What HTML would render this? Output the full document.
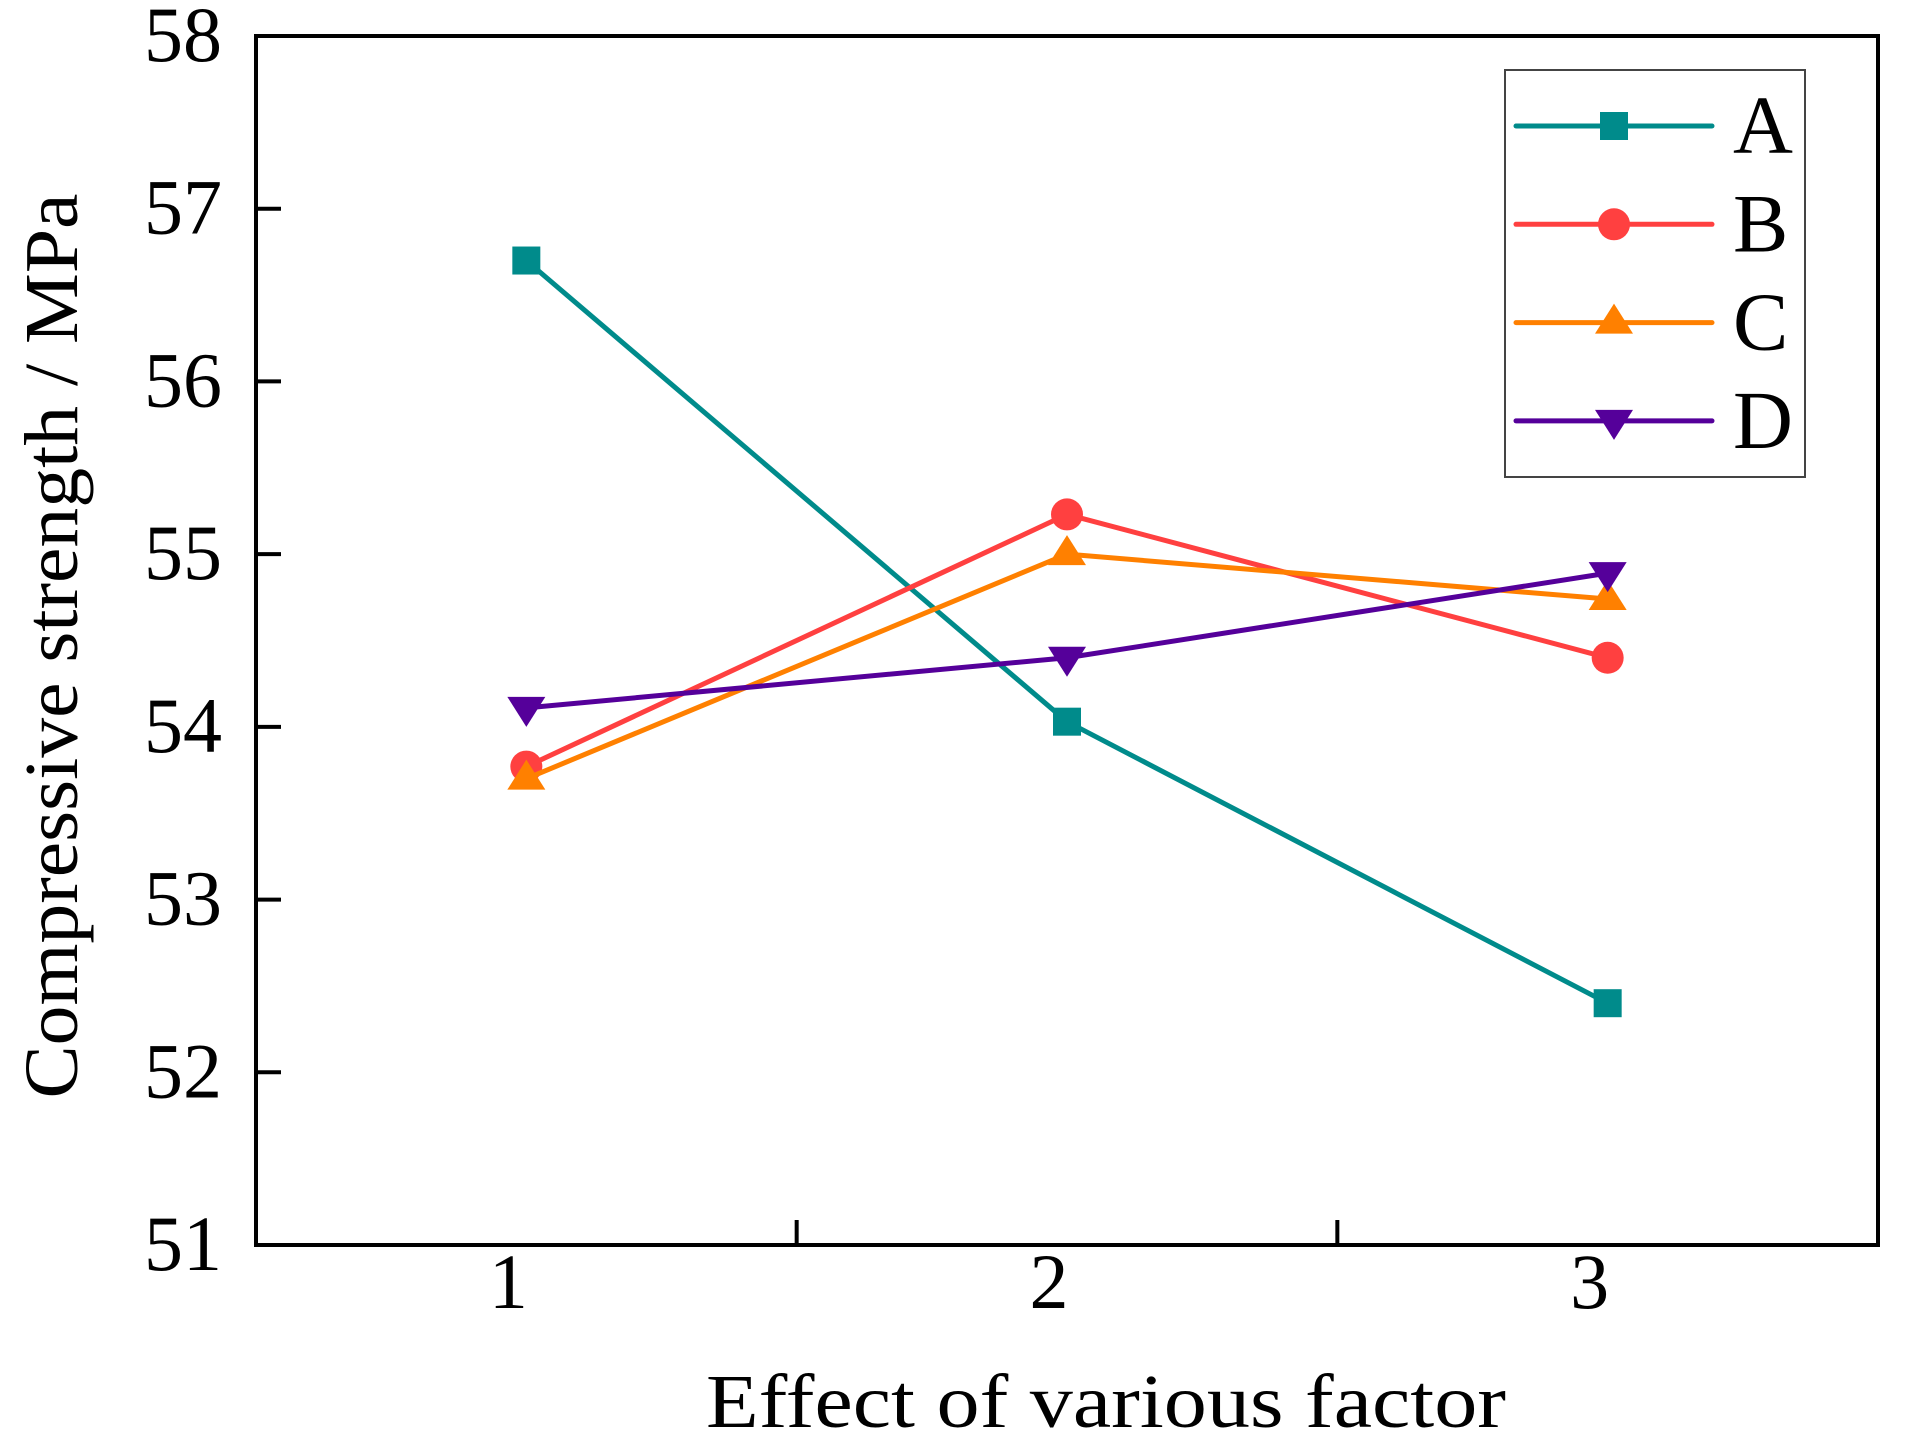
<!DOCTYPE html>
<html><head><meta charset="utf-8"><style>
html,body{margin:0;padding:0;background:#fff;}
svg, svg text{font-family:"Liberation Serif","Times New Roman",Times,serif;}
</style></head><body>
<svg id="chart" width="1917" height="1446" viewBox="0 0 1917 1446" xmlns="http://www.w3.org/2000/svg" font-family="Liberation Serif, Times New Roman, serif">
<rect x="0" y="0" width="1917" height="1446" fill="#fff"/>
<g id="marks"></g>
<rect x="256" y="36" width="1622" height="1209" fill="none" stroke="#000" stroke-width="4"/>
<g id="axes"></g>
<text x="1106" y="1427" font-family="Liberation Serif, serif" font-size="76" text-anchor="middle" textLength="800" lengthAdjust="spacingAndGlyphs">Effect of various factor</text>
<text transform="translate(77,646) rotate(-90)" font-family="Liberation Serif, serif" font-size="76" text-anchor="middle" textLength="905" lengthAdjust="spacingAndGlyphs">Compressive strength / MPa</text>
<g id="legend">
<rect x="1505" y="70" width="300" height="407" fill="#fff" stroke="#444" stroke-width="2"/>
</g>
</svg>
<script>
const categories = [1, 2, 3];
const seriesNames = ["A", "B", "C", "D"];
const seriesA = [56.70, 54.03, 52.40];
const seriesB = [53.77, 55.23, 54.40];
const seriesC = [53.70, 55.00, 54.74];
const seriesD = [54.11, 54.40, 54.89];
const yTicks = [51, 52, 53, 54, 55, 56, 57, 58];
const xMinorTicks = [1.5, 2.5];

const NS = "http://www.w3.org/2000/svg";
const L = 256, R = 1878, T = 36, B = 1245;
const xMin = 0.5, xMax = 3.5, yMin = 51, yMax = 58;
const FONT = "Liberation Serif, serif";
function xs(v){ return L + (v - xMin) / (xMax - xMin) * (R - L); }
function ys(v){ return B - (v - yMin) / (yMax - yMin) * (B - T); }
function mk(tag, attrs, parent){ const e = document.createElementNS(NS, tag); for (const k in attrs) e.setAttribute(k, attrs[k]); parent.appendChild(e); return e; }

const axes = document.getElementById('axes');
yTicks.forEach(t => {
  const y = ys(t);
  const tl = mk('line', {x1: L, x2: L + 25, y1: y, y2: y, stroke: '#000', 'stroke-width': 4}, axes);
  
  
  const tx = mk('text', {x: 222, y: y + 25, 'font-size': 78, 'font-family': FONT, 'text-anchor': 'end'}, axes);
  tx.textContent = t;
  
  
});
categories.forEach(c => {
  const tx = mk('text', {x: xs(c) - 18, y: 1308, 'font-size': 78, 'font-family': FONT, 'text-anchor': 'middle'}, axes);
  tx.textContent = c;
  
  
});
xMinorTicks.forEach(c => {
  const tl = mk('line', {x1: xs(c), x2: xs(c), y1: B, y2: B - 25, stroke: '#000', 'stroke-width': 4}, axes);
  
  
});

const colors = ["#008B8B", "#FF4040", "#FF8000", "#55009A"];
const shapes = ["square", "circle", "up", "down"];
const allSeries = [seriesA, seriesB, seriesC, seriesD];

function marker(shape, x, y, color, parent){
  let e;
  if (shape === 'square') e = mk('rect', {x: x - 14, y: y - 14, width: 28, height: 28, fill: color}, parent);
  else if (shape === 'circle') e = mk('circle', {cx: x, cy: y, r: 16, fill: color}, parent);
  else if (shape === 'up') e = mk('polygon', {points: `${x},${y-19} ${x-19},${y+11} ${x+19},${y+11}`, fill: color}, parent);
  else e = mk('polygon', {points: `${x},${y+19} ${x-19},${y-11} ${x+19},${y-11}`, fill: color}, parent);
  return e;
}

const marks = document.getElementById('marks');
allSeries.forEach((s, i) => {
  const g = mk('g', {}, marks);
  
  
  const pts = s.map((v, j) => xs(categories[j]) + ',' + ys(v)).join(' ');
  const pl = mk('polyline', {points: pts, fill: 'none', stroke: colors[i], 'stroke-width': 5, 'stroke-linejoin': 'round'}, g);
  
  
  s.forEach((v, j) => {
    const m = marker(shapes[i], xs(categories[j]), ys(v), colors[i], g);
    
    
  });
});

const legend = document.getElementById('legend');
seriesNames.forEach((n, i) => {
  const y = 126 + i * 98.3;
  const g = mk('g', {}, legend);
  
  
  mk('line', {x1: 1516, x2: 1712, y1: y, y2: y, stroke: colors[i], 'stroke-width': 5, 'stroke-linecap': 'round'}, g);
  marker(shapes[i], 1614, y, colors[i], g);
  const t = mk('text', {x: 1733, y: y + 27, 'font-size': 83, 'font-family': FONT}, g);
  t.textContent = n;
});
</script>
</body></html>
